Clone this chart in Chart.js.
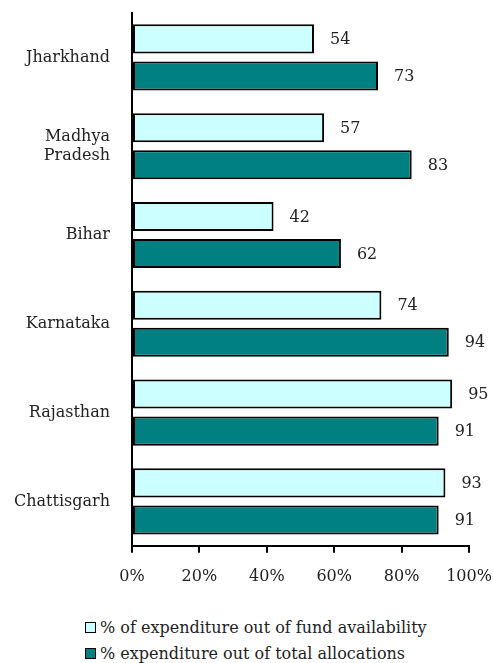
<!DOCTYPE html>
<html>
<head>
<meta charset="utf-8">
<script src="https://cdn.jsdelivr.net/npm/chart.js@4/dist/chart.umd.min.js"></script>
<style>
  body { margin: 0; background: #fff; }
  #wrap { position: relative; width: 493px; height: 663px; }
  #box { position: absolute; left: 0; top: 0; width: 493px; height: 600px; }
  #legend { position: absolute; left: 85px; top: 615px; font-family: "DejaVu Serif", serif; font-size: 16px; color: #222; }
  #legend div { height: 26px; line-height: 26px; white-space: nowrap; }
  #legend span { display: inline-block; width: 9px; height: 9px; border: 1.5px solid #000; margin-right: 4px; vertical-align: 0px; }
</style>
</head>
<body>
<div id="wrap">
  <div id="box"><canvas id="canvas"></canvas></div>
  <div id="legend"></div>
</div>
<script>
var states = ["Jharkhand", ["Madhya", "Pradesh"], "Bihar", "Karnataka", "Rajasthan", "Chattisgarh"]
var fundAvail = [54, 57, 42, 74, 95, 93]
var totalAlloc = [73, 83, 62, 94, 91, 91]
var seriesNames = ["% of expenditure out of fund availability", "% expenditure out of total allocations"]
var xTicks = [0, 20, 40, 60, 80, 100]

var colors = ["#CCFFFF", "#008080"]
var font = "DejaVu Serif"

// legend below the chart, as plain html
var legend = document.getElementById("legend")
seriesNames.forEach(function(name, i) {
    var row = document.createElement("div")
    var sq = document.createElement("span")
    sq.style.background = colors[i]
    row.appendChild(sq)
    row.appendChild(document.createTextNode(name))
    legend.appendChild(row)
})

// numbers to the right of each bar
var valueLabels = {
    id: "valueLabels",
    afterDatasetsDraw: function(chart) {
        var ctx = chart.ctx
        ctx.save()
        ctx.font = "16px '" + font + "'"
        ctx.fillStyle = "#222"
        ctx.textBaseline = "middle"
        chart.data.datasets.forEach(function(ds, i) {
            chart.getDatasetMeta(i).data.forEach(function(bar, j) {
                ctx.fillText(ds.data[j], bar.x + 16, bar.y + 1)
            })
        })
        ctx.restore()
    }
}

var ctx = document.getElementById("canvas").getContext("2d")
var myChart = new Chart(ctx, {
    type: "bar",
    data: {
        labels: states,
        datasets: [{
            label: seriesNames[0],
            data: fundAvail,
            backgroundColor: colors[0],
            borderColor: "#000",
            borderWidth: 2,
            borderSkipped: false
        }, {
            label: seriesNames[1],
            data: totalAlloc,
            backgroundColor: colors[1],
            borderColor: "#000",
            borderWidth: 2,
            borderSkipped: false
        }]
    },
    options: {
        indexAxis: "y",
        responsive: true,
        maintainAspectRatio: false,
        animation: false,
        categoryPercentage: 0.834,
        barPercentage: 0.784,
        layout: { padding: { top: 13, right: 24, left: 0, bottom: 0 } },
        plugins: {
            legend: { display: false },
            tooltip: { enabled: false }
        },
        scales: {
            x: {
                min: 0,
                max: 100,
                afterBuildTicks: function(axis) {
                    axis.ticks = xTicks.map(function(v) { return { value: v } })
                },
                afterFit: function(axis) {
                    axis.paddingLeft = 0
                    axis.paddingRight = 0
                },
                ticks: {
                    callback: function(v) { return v + "%" },
                    color: "#222",
                    font: { family: font, size: 16 },
                    padding: 14
                },
                grid: { drawOnChartArea: false, color: "#000", lineWidth: 2, tickLength: 7 },
                border: { color: "#000", width: 2 }
            },
            y: {
                afterFit: function(axis) {
                    axis.width = 132
                    axis.paddingTop = 0
                    axis.paddingBottom = 0
                },
                ticks: {
                    color: "#222",
                    font: { family: font, size: 16 },
                    padding: 22
                },
                grid: { drawOnChartArea: false, drawTicks: false },
                border: { color: "#000", width: 2 }
            }
        }
    },
    plugins: [valueLabels]
})
</script>
</body>
</html>
